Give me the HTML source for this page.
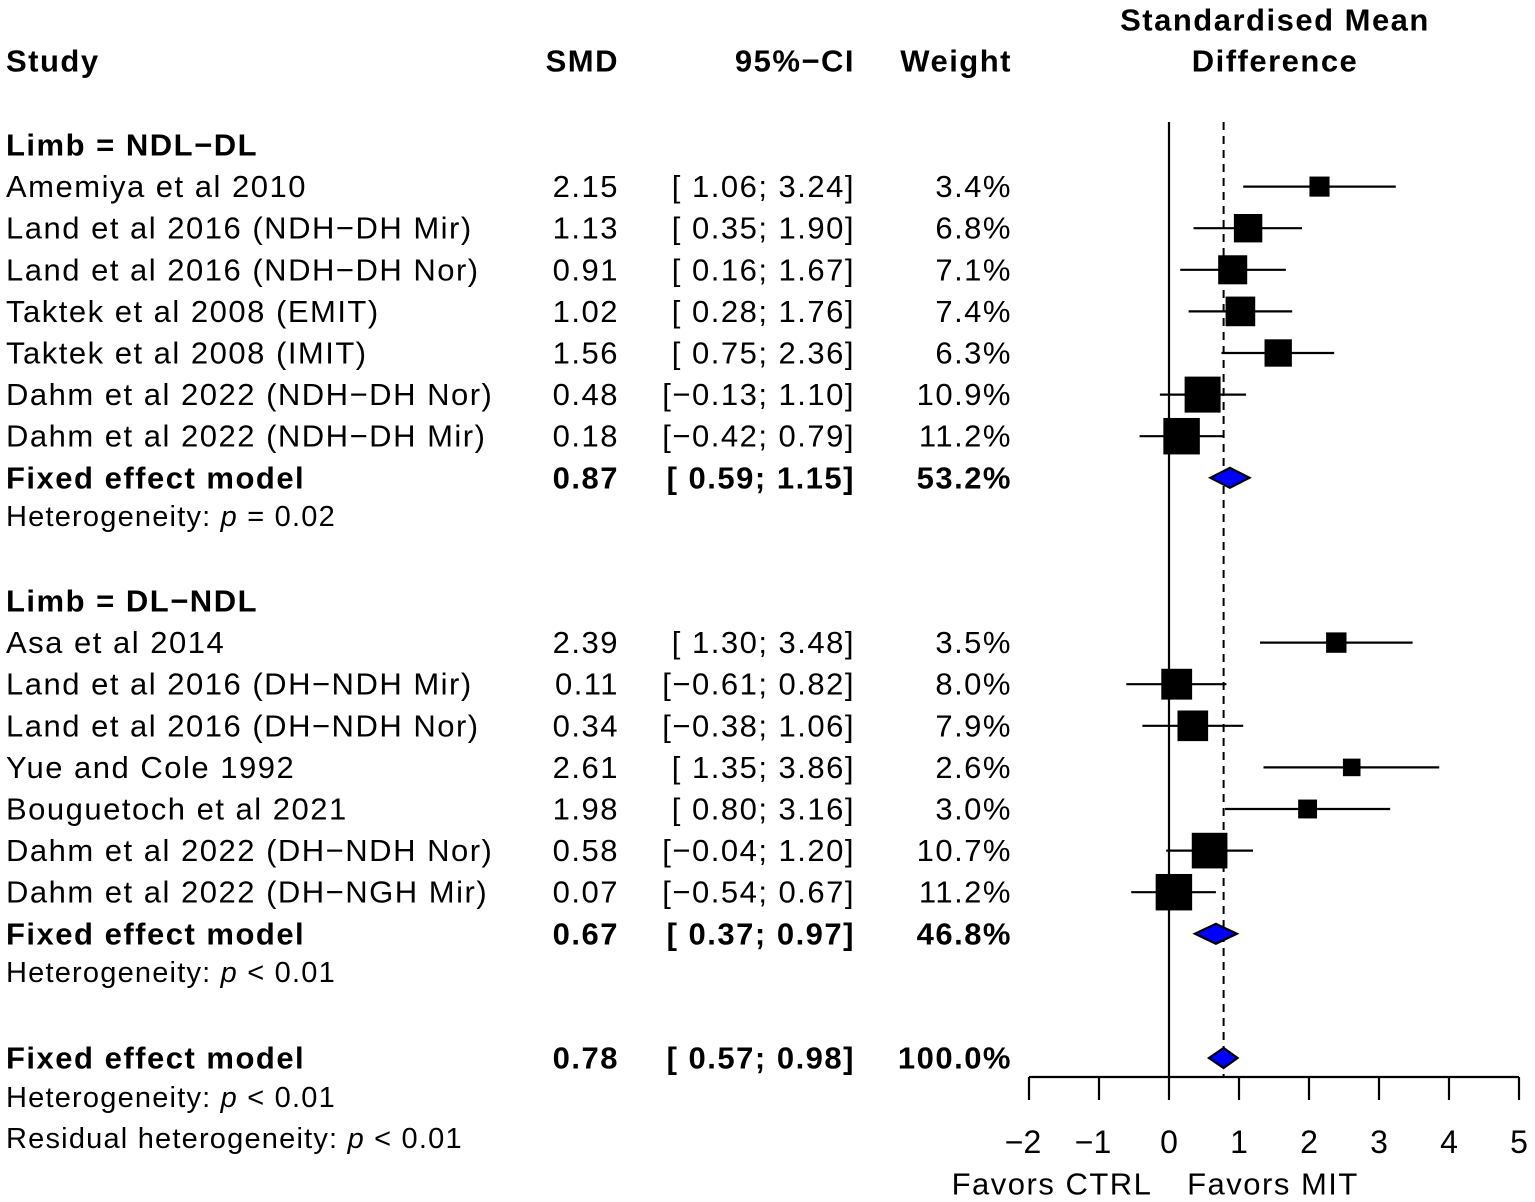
<!DOCTYPE html>
<html><head><meta charset="utf-8"><style>
html,body{margin:0;padding:0;background:#fff;}
svg{display:block;font-family:"Liberation Sans",Arial,sans-serif;}
</style></head><body>
<svg id="chart" width="1535" height="1202" viewBox="0 0 1535 1202"></svg>
<script>
const studies1 = ["Amemiya et al 2010","Land et al 2016 (NDH\u2212DH Mir)","Land et al 2016 (NDH\u2212DH Nor)","Taktek et al 2008 (EMIT)","Taktek et al 2008 (IMIT)","Dahm et al 2022 (NDH\u2212DH Nor)","Dahm et al 2022 (NDH\u2212DH Mir)"];
const smd1 = [2.15,1.13,0.91,1.02,1.56,0.48,0.18];
const lo1 = [1.06,0.35,0.16,0.28,0.75,-0.13,-0.42];
const hi1 = [3.24,1.90,1.67,1.76,2.36,1.10,0.79];
const w1 = [3.4,6.8,7.1,7.4,6.3,10.9,11.2];
const studies2 = ["Asa et al 2014","Land et al 2016 (DH\u2212NDH Mir)","Land et al 2016 (DH\u2212NDH Nor)","Yue and Cole 1992","Bouguetoch et al 2021","Dahm et al 2022 (DH\u2212NDH Nor)","Dahm et al 2022 (DH\u2212NGH Mir)"];
const smd2 = [2.39,0.11,0.34,2.61,1.98,0.58,0.07];
const lo2 = [1.30,-0.61,-0.38,1.35,0.80,-0.04,-0.54];
const hi2 = [3.48,0.82,1.06,3.86,3.16,1.20,0.67];
const w2 = [3.5,8.0,7.9,2.6,3.0,10.7,11.2];
const pooled = [[0.87,0.59,1.15,53.2],[0.67,0.37,0.97,46.8],[0.78,0.57,0.98,100.0]];
const ticks = [-2,-1,0,1,2,3,4,5];

const svg = document.getElementById('chart');
const NS = "http://www.w3.org/2000/svg";
const X = v => 1169 + v*70;
function el(tag, attrs, parent){const e=document.createElementNS(NS,tag);for(const k in attrs)e.setAttribute(k,attrs[k]);(parent||svg).appendChild(e);return e;}
function txt(s,x,y,opts){opts=opts||{};const t=el('text',{x:x,y:y,'font-size':opts.size||31,'letter-spacing':opts.ls!==undefined?opts.ls:1.5,'font-weight':opts.bold?'bold':'normal','text-anchor':opts.anchor||'start','dominant-baseline':'central',fill:'#000'});t.textContent=s;return t;}
const fmt = v => (v<0?'\u2212':'')+Math.abs(v).toFixed(2);
const ci = (l,h) => '['+(l<0?'':' ')+fmt(l)+'; '+fmt(h)+']';

txt('Study',6,61,{bold:true,name:'study-header'});
txt('SMD',619,61,{bold:true,anchor:'end',name:'smd-header'});
txt('95%\u2212CI',855,61,{bold:true,anchor:'end',name:'ci-header'});
txt('Weight',1012,61,{bold:true,anchor:'end',name:'weight-header'});
txt('Standardised Mean',1275,20,{bold:true,anchor:'middle',name:'plot-title-line1'});
txt('Difference',1275,61,{bold:true,anchor:'middle',name:'plot-title-line2'});

let l=el('line',{x1:X(0),y1:122,x2:X(0),y2:1077,stroke:'#000','stroke-width':2.2});

l=el('line',{x1:X(pooled[2][0]),y1:122,x2:X(pooled[2][0]),y2:1077,stroke:'#000','stroke-width':2,'stroke-dasharray':'8,6'});


function hetText(y,prefix,rest,name){
  const h=txt(prefix,6,y,{size:29,ls:1.2,name:name});
  const ts=el('tspan',{'font-style':'italic'},h);ts.textContent='p';
  const t2=el('tspan',{},h);t2.textContent=rest;
}
function group(title,startY,names,smd,lo,hi,w,p,het){
  txt(title,6,startY,{bold:true,name:'subgroup-title'});
  for(let i=0;i<names.length;i++){
    const y=startY+41.6*(i+1);
    txt(names[i],6,y,{name:'study-name'});
    txt(smd[i].toFixed(2),619,y,{anchor:'end',name:'smd-value'});
    txt(ci(lo[i],hi[i]),855,y,{anchor:'end',name:'ci-value'});
    txt(w[i].toFixed(1)+'%',1012,y,{anchor:'end',name:'weight-value'});
    const ln=el('line',{x1:X(lo[i]),y1:y,x2:X(hi[i]),y2:y,stroke:'#000','stroke-width':2.2});
    
    const s=10.9*Math.sqrt(w[i]);
    const r=el('rect',{x:X(smd[i])-s/2,y:y-s/2,width:s,height:s,fill:'#000'});
    
  }
  const fy=startY+41.6*(names.length+1);
  pooledRow(fy,p);
  hetText(fy+39,'Heterogeneity: ',het,'heterogeneity-text');
}
function pooledRow(y,p){
  txt('Fixed effect model',6,y,{bold:true,name:'pooled-label'});
  txt(p[0].toFixed(2),619,y,{bold:true,anchor:'end',name:'pooled-smd'});
  txt(ci(p[1],p[2]),855,y,{bold:true,anchor:'end',name:'pooled-ci'});
  txt(p[3].toFixed(1)+'%',1012,y,{bold:true,anchor:'end',name:'pooled-weight'});
  const d=el('polygon',{points:`${X(p[1])},${y} ${X(p[0])},${y-10} ${X(p[2])},${y} ${X(p[0])},${y+10}`,fill:'#0000ff',stroke:'#000','stroke-width':2.2});
  
}
group('Limb = NDL\u2212DL',145,studies1,smd1,lo1,hi1,w1,pooled[0],' = 0.02');
group('Limb = DL\u2212NDL',601,studies2,smd2,lo2,hi2,w2,pooled[1],' < 0.01');
pooledRow(1058,pooled[2]);
hetText(1098,'Heterogeneity: ',' < 0.01','overall-heterogeneity');
hetText(1139,'Residual heterogeneity: ',' < 0.01','residual-heterogeneity');

l=el('line',{x1:X(ticks[0]),y1:1077,x2:X(ticks[ticks.length-1]),y2:1077,stroke:'#000','stroke-width':2.2});

ticks.forEach(t=>{
  const k=el('line',{x1:X(t),y1:1077,x2:X(t),y2:1100,stroke:'#000','stroke-width':2.2});
  
  txt((t<0?'\u2212':'')+Math.abs(t),X(t)-(t<0?6:0),1142,{anchor:'middle',ls:0,size:32,name:'x-tick-label'});
});
txt('Favors CTRL',1052,1184,{anchor:'middle',name:'favors-ctrl-label'});
txt('Favors MIT',1273,1184,{anchor:'middle',name:'favors-mit-label'});
</script>
</body></html>
